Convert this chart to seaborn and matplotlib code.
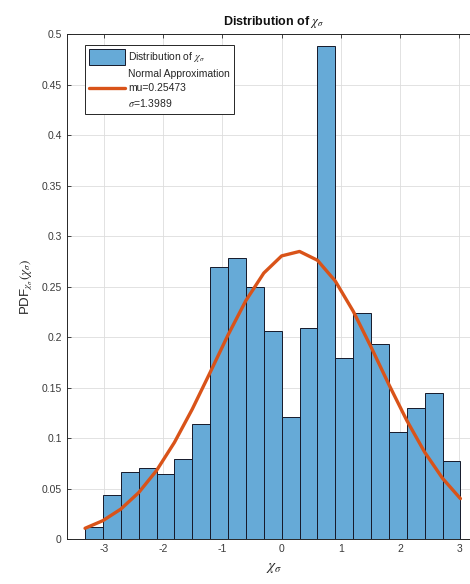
import numpy as np
import pandas as pd
import matplotlib
matplotlib.use("Agg")
import matplotlib.pyplot as plt
import seaborn as sns
from matplotlib.patches import Patch
from matplotlib.lines import Line2D
from matplotlib.ticker import FuncFormatter

# ---------------- data ----------------
bin_edges = [-3.320, -3.018, -2.716, -2.414, -2.112, -1.810, -1.508, -1.206,
             -0.904, -0.602, -0.300, 0.002, 0.304, 0.606, 0.908, 1.210,
             1.512, 1.814, 2.116, 2.418, 2.720, 3.022]
bar_heights = [0.0125, 0.0435, 0.0670, 0.0710, 0.0647, 0.0795, 0.1138,
               0.2693, 0.2782, 0.2498, 0.2058, 0.1211, 0.2089, 0.4887,
               0.1798, 0.2241, 0.1931, 0.1066, 0.1303, 0.1445, 0.0775]
fit_x = bin_edges
fit_pdf = [0.0109, 0.0185, 0.0299, 0.0462, 0.0681, 0.0959, 0.1289, 0.1653,
           0.2023, 0.2364, 0.2636, 0.2806, 0.2850, 0.2763, 0.2557, 0.2259,
           0.1904, 0.1532, 0.1177, 0.0863, 0.0604, 0.0403]
mu_label = "0.25473"
sigma_label = "1.3989"
x_ticks = [-3, -2, -1, 0, 1, 2, 3]
y_ticks = [0, 0.05, 0.1, 0.15, 0.2, 0.25, 0.3, 0.35, 0.4, 0.45, 0.5]

# ---------------- style ----------------
sns.set_theme(style="ticks")
plt.rcParams["font.family"] = ["Liberation Sans", "DejaVu Sans"]
plt.rcParams["mathtext.fontset"] = "stix"
plt.rcParams["axes.unicode_minus"] = False

W, H = 470, 584
fig = plt.figure(figsize=(W / 100, H / 100), dpi=100)
left_px, right_px, top_px, bottom_px = 66.7, 481.0, 34.3, 539.3
ax = fig.add_axes([left_px / W, (H - bottom_px) / H,
                   (right_px - left_px) / W, (bottom_px - top_px) / H])

centers = [(a + b) / 2 for a, b in zip(bin_edges[:-1], bin_edges[1:])]
df = pd.DataFrame({"x": centers, "h": bar_heights})
bar_color = "#66AAD7"
line_color = "#D95319"

sns.histplot(data=df, x="x", weights="h", bins=bin_edges, stat="count",
             color=bar_color, alpha=1.0, edgecolor="#15192a", linewidth=0.7,
             ax=ax)
sns.lineplot(x=fit_x, y=fit_pdf, color=line_color, linewidth=2.4, ax=ax,
             zorder=5)

ax.set_xlim(-3.63, 3.37)
ax.set_ylim(0, 0.5)
ax.set_xticks(x_ticks)
ax.set_yticks(y_ticks)
ax.yaxis.set_major_formatter(FuncFormatter(lambda v, p: f"{v:g}"))
ax.grid(True, color="#dddddd", linewidth=0.6)
ax.set_axisbelow(True)
for s in ax.spines.values():
    s.set_visible(True)
    s.set_color("#262626")
    s.set_linewidth(0.7)
ax.tick_params(direction="in", length=3, width=0.6, top=True, right=True,
               labelsize=7.5, labelcolor="#3a3a3a", color="#262626")

ax.set_title(r"Distribution of $\chi_\sigma$", fontsize=9,
             fontweight="bold", pad=6.5, color="#111111")
ax.set_xlabel(r"$\chi_\sigma$", fontsize=11, labelpad=5, color="#262626")
ax.set_ylabel("PDF" + r"$_{\chi_\sigma}(\chi_\sigma)$", fontsize=9.5,
              labelpad=5, color="#262626")

handles = [Patch(facecolor=bar_color, edgecolor="#15192a", linewidth=0.7),
           Line2D([0], [0], color=line_color, linewidth=2.4)]
labels = [r"Distribution of $\chi_\sigma$",
          "Normal Approximation\nmu=" + mu_label + "\n" + r"$\sigma$=" + sigma_label]
leg = ax.legend(handles, labels, loc="upper left",
                bbox_to_anchor=(18.3 / (right_px - left_px), 1 - 10.7 / (bottom_px - top_px)),
                borderaxespad=0, fontsize=7.5, frameon=True, fancybox=False,
                handlelength=3.4, handleheight=1.9, handletextpad=0.35,
                borderpad=0.4, labelspacing=0.45, framealpha=1)
for t in leg.get_texts():
    t.set_linespacing(1.45)
leg.get_frame().set_edgecolor("#262626")
leg.get_frame().set_linewidth(0.7)

fig.savefig("out.png", dpi=100)
